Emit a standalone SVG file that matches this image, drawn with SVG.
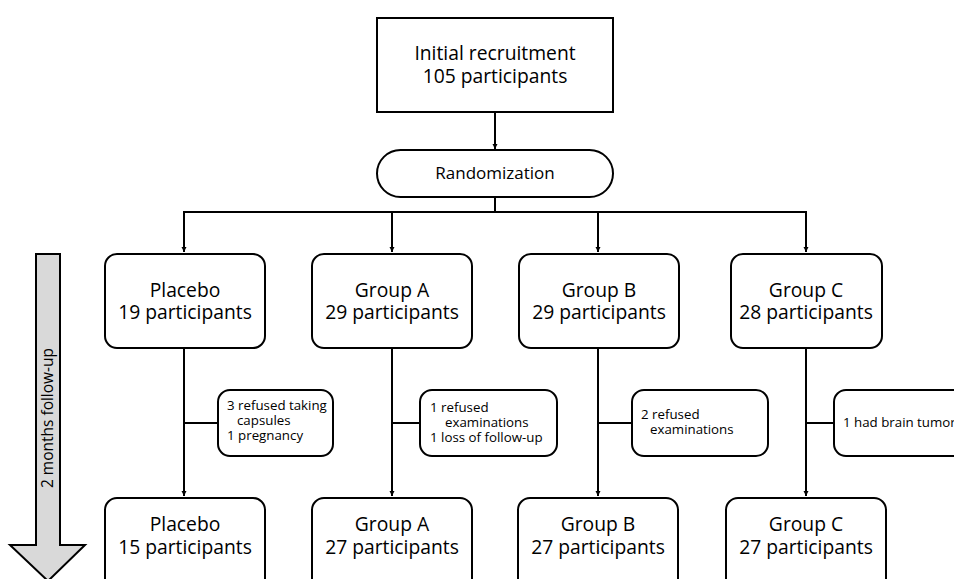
<svg xmlns="http://www.w3.org/2000/svg" width="954" height="579" viewBox="0 0 954 579">
<style>
.box{fill:#fff;stroke:#000;stroke-width:2}
.ln{fill:none;stroke:#000;stroke-width:2}
.t{font-family:"Open Sans","Noto Sans","Liberation Sans",sans-serif;fill:#000}
.big{font-size:19.3px;text-anchor:middle}
.mid{font-size:17px;text-anchor:middle}
.sm{font-size:13.3px}
</style>
<defs>
<marker id="ah" viewBox="0 0 10 10" refX="10" refY="5" markerWidth="5" markerHeight="6" orient="auto" markerUnits="userSpaceOnUse">
<path d="M0,0 L10,5 L0,10 z" fill="#000"/>
</marker>
</defs>
<rect width="954" height="579" fill="#fff"/>
<g id="followup">
<path d="M36,254 H60 V545 H85 L48,581 L10,545 H36 Z" fill="#d9d9d9" stroke="#000" stroke-width="2"/>
<text class="t" font-size="15.5" text-anchor="middle" transform="translate(53,418) rotate(-90)">2 months follow-up</text>
</g>
<g id="connectors">
<line class="ln" x1="495" y1="112" x2="495" y2="149" marker-end="url(#ah)"/>
<line class="ln" x1="495" y1="197" x2="495" y2="212"/>
<line class="ln" x1="183" y1="212" x2="807" y2="212"/>
<line class="ln" x1="184" y1="212" x2="184" y2="252" marker-end="url(#ah)"/>
<line class="ln" x1="392" y1="212" x2="392" y2="252" marker-end="url(#ah)"/>
<line class="ln" x1="598" y1="212" x2="598" y2="252" marker-end="url(#ah)"/>
<line class="ln" x1="806" y1="212" x2="806" y2="252" marker-end="url(#ah)"/>
<line class="ln" x1="184" y1="348" x2="184" y2="496" marker-end="url(#ah)"/>
<line class="ln" x1="392" y1="348" x2="392" y2="496" marker-end="url(#ah)"/>
<line class="ln" x1="598" y1="348" x2="598" y2="496" marker-end="url(#ah)"/>
<line class="ln" x1="806" y1="348" x2="806" y2="496" marker-end="url(#ah)"/>
<line class="ln" x1="184" y1="423" x2="218" y2="423"/>
<line class="ln" x1="392" y1="423" x2="420" y2="423"/>
<line class="ln" x1="598" y1="423" x2="632" y2="423"/>
<line class="ln" x1="806" y1="423" x2="834" y2="423"/>
</g>
<g id="recruitment">
<rect class="box" x="377" y="18" width="236" height="94"/>
<text class="t big" x="495" y="60">Initial recruitment</text>
<text class="t big" x="495" y="83">105 participants</text>
</g>
<g id="randomization">
<rect class="box" x="377" y="150" width="236" height="47" rx="23.5"/>
<text class="t mid" x="495" y="179">Randomization</text>
</g>
<g id="placebo1">
<rect class="box" x="105" y="254" width="160" height="94" rx="12"/>
<text class="t big" x="185" y="297">Placebo</text>
<text class="t big" x="185" y="319">19 participants</text>
</g>
<g id="groupA1">
<rect class="box" x="312" y="254" width="160" height="94" rx="12"/>
<text class="t big" x="392" y="297">Group A</text>
<text class="t big" x="392" y="319">29 participants</text>
</g>
<g id="groupB1">
<rect class="box" x="519" y="254" width="160" height="94" rx="12"/>
<text class="t big" x="599" y="297">Group B</text>
<text class="t big" x="599" y="319">29 participants</text>
</g>
<g id="groupC1">
<rect class="box" x="731" y="254" width="151" height="94" rx="12"/>
<text class="t big" x="806" y="297">Group C</text>
<text class="t big" x="806" y="319">28 participants</text>
</g>
<g id="excl-placebo">
<rect class="box" x="218" y="390" width="115" height="66" rx="12"/>
<text class="t sm" x="227" y="410">3 refused taking</text>
<text class="t sm" x="237" y="425">capsules</text>
<text class="t sm" x="227" y="440">1 pregnancy</text>
</g>
<g id="excl-groupA">
<rect class="box" x="420" y="390" width="137" height="66" rx="12"/>
<text class="t sm" x="430" y="412">1 refused</text>
<text class="t sm" x="445" y="427">examinations</text>
<text class="t sm" x="430" y="442">1 loss of follow-up</text>
</g>
<g id="excl-groupB">
<rect class="box" x="632" y="390" width="136" height="66" rx="12"/>
<text class="t sm" x="641" y="419">2 refused</text>
<text class="t sm" x="650" y="434">examinations</text>
</g>
<g id="excl-groupC">
<rect class="box" x="834" y="390" width="140" height="66" rx="12"/>
<text class="t sm" x="843" y="427">1 had brain tumor</text>
</g>
<g id="placebo2">
<rect class="box" x="105" y="498" width="160" height="94" rx="12"/>
<text class="t big" x="185" y="531">Placebo</text>
<text class="t big" x="185" y="554">15 participants</text>
</g>
<g id="groupA2">
<rect class="box" x="312" y="498" width="160" height="94" rx="12"/>
<text class="t big" x="392" y="531">Group A</text>
<text class="t big" x="392" y="554">27 participants</text>
</g>
<g id="groupB2">
<rect class="box" x="518" y="498" width="160" height="94" rx="12"/>
<text class="t big" x="598" y="531">Group B</text>
<text class="t big" x="598" y="554">27 participants</text>
</g>
<g id="groupC2">
<rect class="box" x="726" y="498" width="160" height="94" rx="12"/>
<text class="t big" x="806" y="531">Group C</text>
<text class="t big" x="806" y="554">27 participants</text>
</g>
</svg>
